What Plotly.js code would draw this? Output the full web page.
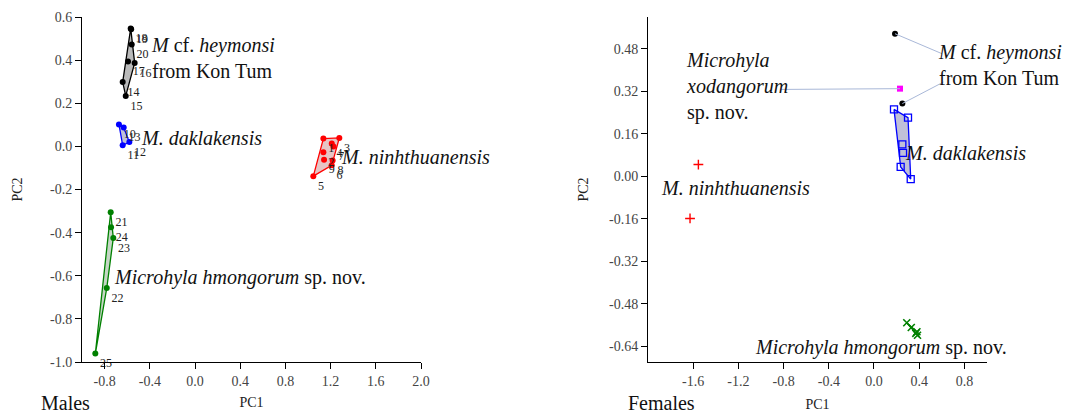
<!DOCTYPE html>
<html>
<head>
<meta charset="utf-8">
<script src="https://cdn.plot.ly/plotly-3.0.1.min.js"></script>
<style>html,body{margin:0;padding:0;background:#fff;}#chart{width:1065px;height:414px;}</style>
</head>
<body>
<div id="chart"></div>
<script>
// ---------- Males (left panel) ----------
var maleHeymonsiX = [-0.569, -0.565, -0.560, -0.593, -0.534, -0.640, -0.613];
var maleHeymonsiY = [0.547, 0.543, 0.473, 0.394, 0.387, 0.298, 0.234];
var maleHeymonsiLab = ['18', '19', '20', '17', '16', '14', '15'];

var maleDaklakX = [-0.673, -0.631, -0.581, -0.640];
var maleDaklakY = [0.102, 0.087, 0.020, 0.005];
var maleDaklakLab = ['10', '13', '12', '11'];

var maleNinhX = [1.136, 1.277, 1.210, 1.225, 1.136, 1.142, 1.218, 1.210, 1.047];
var maleNinhY = [0.036, 0.039, 0.013, 0.000, -0.027, -0.062, -0.065, -0.088, -0.138];
var maleNinhLab = ['1', '3', '4', '7', '2', '9', '8', '6', '5'];

var maleHmongX = [-0.746, -0.743, -0.723, -0.781, -0.882];
var maleHmongY = [-0.306, -0.375, -0.425, -0.657, -0.961];
var maleHmongLab = ['21', '24', '23', '22', '25'];

var maleXTicks = [-0.8, -0.4, 0.0, 0.4, 0.8, 1.2, 1.6, 2.0];
var maleYTicks = [-1.0, -0.8, -0.6, -0.4, -0.2, 0.0, 0.2, 0.4, 0.6];

// ---------- Females (right panel) ----------
var femNinhX = [-1.554, -1.628];
var femNinhY = [0.044, -0.159];

var femHeymonsiX = [0.186, 0.251];
var femHeymonsiY = [0.537, 0.274];

var femXodangX = [0.230];
var femXodangY = [0.330];

var femDaklakX = [0.177, 0.301, 0.251, 0.257, 0.236, 0.325];
var femDaklakY = [0.252, 0.221, 0.120, 0.088, 0.035, -0.011];

var femHmongX = [0.290, 0.330, 0.380, 0.385, 0.370];
var femHmongY = [-0.552, -0.570, -0.586, -0.599, -0.592];

var femXTicks = [-1.6, -1.2, -0.8, -0.4, 0.0, 0.4, 0.8];
var femYTicks = [-0.64, -0.48, -0.32, -0.16, 0.00, 0.16, 0.32, 0.48];

// ---------- helpers ----------
function convexHull(xs, ys) {
  var p = xs.map(function (x, i) { return [x, ys[i]]; });
  p.sort(function (a, b) { return a[0] - b[0] || a[1] - b[1]; });
  function cross(o, a, b) { return (a[0] - o[0]) * (b[1] - o[1]) - (a[1] - o[1]) * (b[0] - o[0]); }
  var lower = [], upper = [];
  p.forEach(function (pt) {
    while (lower.length >= 2 && cross(lower[lower.length - 2], lower[lower.length - 1], pt) <= 0) lower.pop();
    lower.push(pt);
  });
  for (var i = p.length - 1; i >= 0; i--) {
    var pt = p[i];
    while (upper.length >= 2 && cross(upper[upper.length - 2], upper[upper.length - 1], pt) <= 0) upper.pop();
    upper.push(pt);
  }
  upper.pop(); lower.pop();
  var h = lower.concat(upper);
  h.push(h[0]);
  return { x: h.map(function (q) { return q[0]; }), y: h.map(function (q) { return q[1]; }) };
}
function hullTrace(xs, ys, color, fill, xa, ya) {
  var h = convexHull(xs, ys);
  return { x: h.x, y: h.y, xaxis: xa, yaxis: ya, mode: 'lines', fill: 'toself',
    fillcolor: fill, line: { color: color, width: 1.3 }, hoverinfo: 'skip' };
}
var serif = 'Liberation Serif, Times New Roman, serif';
function labTrace(xs, ys, labs, color) {
  return { x: xs, y: ys, text: labs, xaxis: 'x', yaxis: 'y', mode: 'markers+text',
    textposition: 'bottom right', cliponaxis: false,
    textfont: { family: serif, size: 12, color: '#222' },
    marker: { color: color, size: 6, symbol: 'circle' } };
}
function fmt(v, d) { return v.toFixed(d); }

var tickFont = { family: serif, size: 14, color: '#444' };

var traces = [
  hullTrace(maleHeymonsiX, maleHeymonsiY, '#000000', 'rgba(140,140,140,0.6)', 'x', 'y'),
  labTrace(maleHeymonsiX, maleHeymonsiY, maleHeymonsiLab, '#000000'),
  hullTrace(maleDaklakX, maleDaklakY, '#0000ff', 'rgba(150,150,190,0.6)', 'x', 'y'),
  labTrace(maleDaklakX, maleDaklakY, maleDaklakLab, '#0000ff'),
  hullTrace(maleNinhX, maleNinhY, '#ff0000', 'rgba(210,150,150,0.55)', 'x', 'y'),
  labTrace(maleNinhX, maleNinhY, maleNinhLab, '#ff0000'),
  hullTrace(maleHmongX, maleHmongY, '#008000', 'rgba(150,180,150,0.55)', 'x', 'y'),
  labTrace(maleHmongX, maleHmongY, maleHmongLab, '#008000'),

  hullTrace(femDaklakX, femDaklakY, '#0000ff', 'rgba(150,150,190,0.6)', 'x2', 'y2'),
  { x: femDaklakX, y: femDaklakY, xaxis: 'x2', yaxis: 'y2', mode: 'markers',
    marker: { symbol: 'square-open', size: 7, color: '#0000ff', line: { width: 1.3, color: '#0000ff' } } },
  hullTrace(femHmongX, femHmongY, '#008000', 'rgba(150,180,150,0.5)', 'x2', 'y2'),
  { x: femHmongX, y: femHmongY, xaxis: 'x2', yaxis: 'y2', mode: 'markers',
    marker: { symbol: 'x-thin', size: 7, color: '#008000', line: { width: 1.6, color: '#008000' } } },
  { x: femNinhX, y: femNinhY, xaxis: 'x2', yaxis: 'y2', mode: 'markers',
    marker: { symbol: 'cross-thin', size: 7, color: '#ff0000', line: { width: 1.4, color: '#ff0000' } } },
  { x: femHeymonsiX, y: femHeymonsiY, xaxis: 'x2', yaxis: 'y2', mode: 'markers',
    marker: { symbol: 'circle', size: 6, color: '#000000' } },
  { x: femXodangX, y: femXodangY, xaxis: 'x2', yaxis: 'y2', mode: 'markers',
    marker: { symbol: 'square', size: 6, color: '#ff00ff' } }
];

var connColor = '#a9b8d8';
var shapes = [
  { type: 'line', xref: 'x2', yref: 'y2', x0: femHeymonsiX[0], y0: femHeymonsiY[0], x1: 0.600, y1: 0.462, line: { color: connColor, width: 1 } },
  { type: 'line', xref: 'x2', yref: 'y2', x0: femHeymonsiX[1], y0: femHeymonsiY[1], x1: 0.615, y1: 0.355, line: { color: connColor, width: 1 } },
  { type: 'line', xref: 'x2', yref: 'y2', x0: -0.826, y0: 0.327, x1: femXodangX[0], y1: femXodangY[0], line: { color: connColor, width: 1 } }
];

function ann(xr, yr, x, y, text, size) {
  return { xref: xr, yref: yr, x: x, y: y, text: text, showarrow: false, xanchor: 'left', yanchor: 'middle',
    align: 'left', font: { family: serif, size: size || 20, color: '#111' } };
}
var annotations = [
  ann('x', 'y', -0.408, 0.412, '<i>M</i> cf. <i>heymonsi</i><br>from Kon Tum'),
  ann('x', 'y', -0.492, 0.037, '<i>M. daklakensis</i>'),
  ann('x', 'y', 1.274, -0.051, '<i>M. ninhthuanensis</i>'),
  ann('x', 'y', -0.735, -0.609, '<i>Microhyla hmongorum</i> sp. nov.'),
  ann('x2', 'y2', -1.677, 0.337, '<i>Microhyla</i><br><i>xodangorum</i><br>sp. nov.'),
  ann('x2', 'y2', 0.545, 0.418, '<i>M</i> cf. <i>heymonsi</i><br>from Kon Tum'),
  ann('x2', 'y2', 0.254, 0.087, '<i>M. daklakensis</i>'),
  ann('x2', 'y2', -1.900, -0.045, '<i>M. ninhthuanensis</i>'),
  ann('x2', 'y2', -1.074, -0.644, '<i>Microhyla hmongorum</i> sp. nov.'),
  ann('paper', 'paper', -0.0475, -0.119, 'Males'),
  ann('paper', 'paper', 0.601, -0.119, 'Females')
];

function axis(range, ticks, dec, domain, anchor, title, standoff) {
  return { range: range, domain: domain, anchor: anchor, tickvals: ticks,
    ticktext: ticks.map(function (v) { return fmt(v, dec); }),
    showline: true, linecolor: '#000', linewidth: 1, ticks: 'outside', ticklen: 6, tickcolor: '#000',
    showgrid: false, zeroline: false, tickfont: tickFont, fixedrange: true,
    title: { text: title, font: { family: serif, size: 14, color: '#222' }, standoff: standoff } };
}

var layout = {
  width: 1065, height: 414,
  margin: { l: 82, r: 78, t: 17, b: 52 },
  paper_bgcolor: '#fff', plot_bgcolor: '#fff',
  showlegend: false,
  xaxis: axis([-1.0, 2.0], maleXTicks, 1, [0, 0.3746], 'y', 'PC1', 9),
  yaxis: axis([-1.0, 0.6], maleYTicks, 1, [0, 1], 'x', 'PC2', 24),
  xaxis2: axis([-2.0, 1.0], femXTicks, 1, [0.6254, 1], 'y2', 'PC1', 11),
  yaxis2: axis([-0.7, 0.6], femYTicks, 2, [0, 1], 'x2', 'PC2', 17),
  shapes: shapes,
  annotations: annotations
};

Plotly.newPlot('chart', traces, layout, { displayModeBar: false, staticPlot: true });
</script>
</body>
</html>
